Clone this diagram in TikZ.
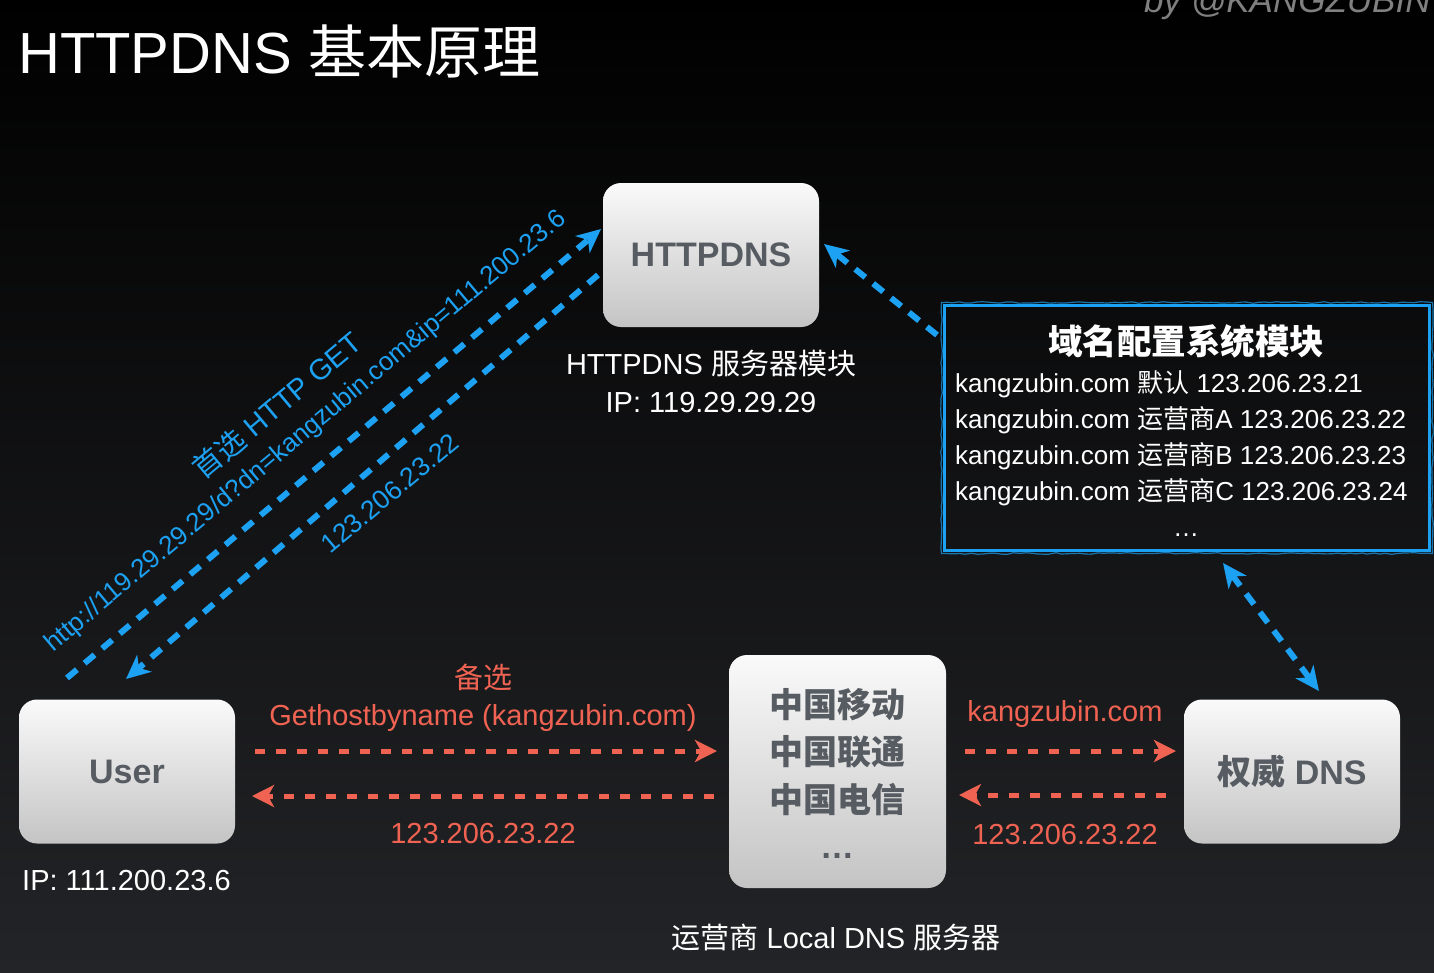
\documentclass[tikz,border=0pt]{standalone}
\usepackage{fontspec}
\setmainfont{Liberation Sans}
\newfontfamily\cjk{Noto Sans CJK SC}
\usetikzlibrary{arrows.meta,calc,decorations.pathmorphing}
\newcommand{\myfs}[1]{\fontsize{#1}{#1}\selectfont}
\definecolor{bluec}{RGB}{29,161,242}
\definecolor{redc}{RGB}{240,99,82}
\definecolor{boxtext}{RGB}{87,92,98}
\definecolor{bgbot}{RGB}{35,36,39}
\definecolor{boxtop}{RGB}{250,250,250}
\definecolor{boxbot}{RGB}{196,196,196}
\definecolor{creditc}{RGB}{128,128,128}
\tikzset{
  box/.style={rounded corners=18pt, minimum width=216pt, minimum height=144pt,
    top color=boxtop, bottom color=boxbot, draw=none, inner sep=0pt,
    text=boxtext, font=\bfseries\myfs{34}},
  wlabel/.style={text=white, inner sep=0pt, font=\myfs{29}},
  rlabel/.style={text=redc, inner sep=0pt, font=\myfs{29}},
  blabel/.style={text=bluec, inner sep=0pt, rotate=40},
  cfgline/.style={text=white, inner sep=0pt, anchor=base west, font=\myfs{26}},
  ldline/.style={text=boxtext, inner sep=0pt, anchor=base, font={\cjk\bfseries\myfs{34}}},
  blueflow/.style={draw=bluec, line width=6pt, dash pattern=on 13pt off 10pt},
  bluetip/.style={-{Stealth[length=24pt,width=22pt,inset=7pt]}},
  redflow/.style={draw=redc, line width=5pt, dash pattern=on 10pt off 11pt,
    -{Stealth[length=22pt,width=22pt,inset=6pt]}},
}
\begin{document}
\begin{tikzpicture}[x=1pt,y=-1pt]
\useasboundingbox (0,0) rectangle (1434,972);
\shade[top color=black, bottom color=bgbot] (0,0) rectangle (1434,972);

% title and credit
\node[anchor=base west, text=white, inner sep=0pt, font=\myfs{58}] (title) at (18,73) {HTTPDNS {\cjk 基本原理}};
\node[anchor=base west, text=creditc, inner sep=0pt, font=\itshape\myfs{35}] (credit) at (1144,12) {by @KANGZUBIN};

% boxes
\node[box] (httpdns) at (711,255) {HTTPDNS};
\node[box] (user) at (127,771.5) {User};
\node[box] (auth) at (1292,771.5) {{\cjk 权威} DNS};
\node[box, minimum height=233pt, minimum width=217pt] (ldns) at (837.5,771.5) {};
\node[ldline] (ld1) at (837,717) {中国移动};
\node[ldline] (ld2) at (837,764.5) {中国联通};
\node[ldline] (ld3) at (837,812) {中国电信};
\node[ldline, font=\bfseries\myfs{34}] (ld4) at (837,858) {…};

% white labels
\node[wlabel, anchor=base] (httpdnslbl) at (711,374) {HTTPDNS {\cjk 服务器模块}};
\node[wlabel, anchor=base] (httpdnsip) at (711,412) {IP: 119.29.29.29};
\node[wlabel, anchor=base west] (userip) at (22,890) {IP: 111.200.23.6};
\node[wlabel, anchor=base] (ldnslbl) at (836,948) {{\cjk 运营商} Local DNS {\cjk 服务器}};

% config box
\node[draw=bluec, line width=3pt, minimum width=485pt, minimum height=245pt, inner sep=0pt] (config) at (1187,428) {};
\draw[bluec, line width=1.2pt, opacity=0.7, decorate, decoration={random steps, segment length=6pt, amplitude=0.8pt}]
  ($(config.north west)+(-1.5,-1.5)$) rectangle ($(config.south east)+(1.5,1.5)$);
\node[text=white, inner sep=0pt, font={\cjk\bfseries\myfs{34.5}}] (cfgtitle) at (1186,341) {域名配置系统模块};
\node[cfgline] (cfg1) at (955,392) {kangzubin.com {\cjk 默认} 123.206.23.21};
\node[cfgline] (cfg2) at (955,428) {kangzubin.com {\cjk 运营商}A 123.206.23.22};
\node[cfgline] (cfg3) at (955,464) {kangzubin.com {\cjk 运营商}B 123.206.23.23};
\node[cfgline] (cfg4) at (955,500) {kangzubin.com {\cjk 运营商}C 123.206.23.24};
\node[cfgline, anchor=base] (cfg5) at (1186,536) {…};

% blue arrows
\coordinate (a1s) at (67,678);
\coordinate (a1e) at (601,229);
\coordinate (a2s) at (598,275);
\coordinate (a2e) at (126,679);
\coordinate (a3s) at (937,335);
\coordinate (a3e) at (824,244);
\coordinate (a4s) at (1223,563);
\coordinate (a4e) at (1319,691);
\draw[blueflow, bluetip] (a1s) -- (a1e);
\draw[blueflow, bluetip] (a2s) -- (a2e);
\draw[blueflow, bluetip] (a3s) -- (a3e);
\draw[blueflow, {Stealth[length=24pt,width=22pt,inset=7pt]}-{Stealth[length=24pt,width=22pt,inset=7pt]}] (a4s) -- (a4e);

% blue labels
\node[blabel, font=\myfs{29}] (preflbl) at (277,405) {{\cjk 首选} HTTP GET};
\node[blabel, font=\myfs{26}] (urllbl) at (306,432) {http://119.29.29.29/d?dn=kangzubin.com\&ip=111.200.23.6};
\node[blabel, font=\myfs{26.5}] (retlbl) at (390,493) {123.206.23.22};

% red arrows
\coordinate (r1s) at (255,751);
\coordinate (r1e) at (717,751);
\coordinate (r2s) at (714,796);
\coordinate (r2e) at (252,796);
\coordinate (r3s) at (965,751);
\coordinate (r3e) at (1176,751);
\coordinate (r4s) at (1166,795);
\coordinate (r4e) at (959,795);
\draw[redflow] (r1s) -- (r1e);
\draw[redflow] (r2s) -- (r2e);
\draw[redflow] (r3s) -- (r3e);
\draw[redflow] (r4s) -- (r4e);

% red labels
\node[rlabel, anchor=base] (altlbl) at (483,688) {\cjk 备选};
\node[rlabel, anchor=base] (ghlbl) at (483,725) {Gethostbyname (kangzubin.com)};
\node[rlabel, anchor=base] (r2lbl) at (483,843) {123.206.23.22};
\node[rlabel, anchor=base] (r3lbl) at (1065,721) {kangzubin.com};
\node[rlabel, anchor=base] (r4lbl) at (1065,844) {123.206.23.22};
\end{tikzpicture}
\end{document}
